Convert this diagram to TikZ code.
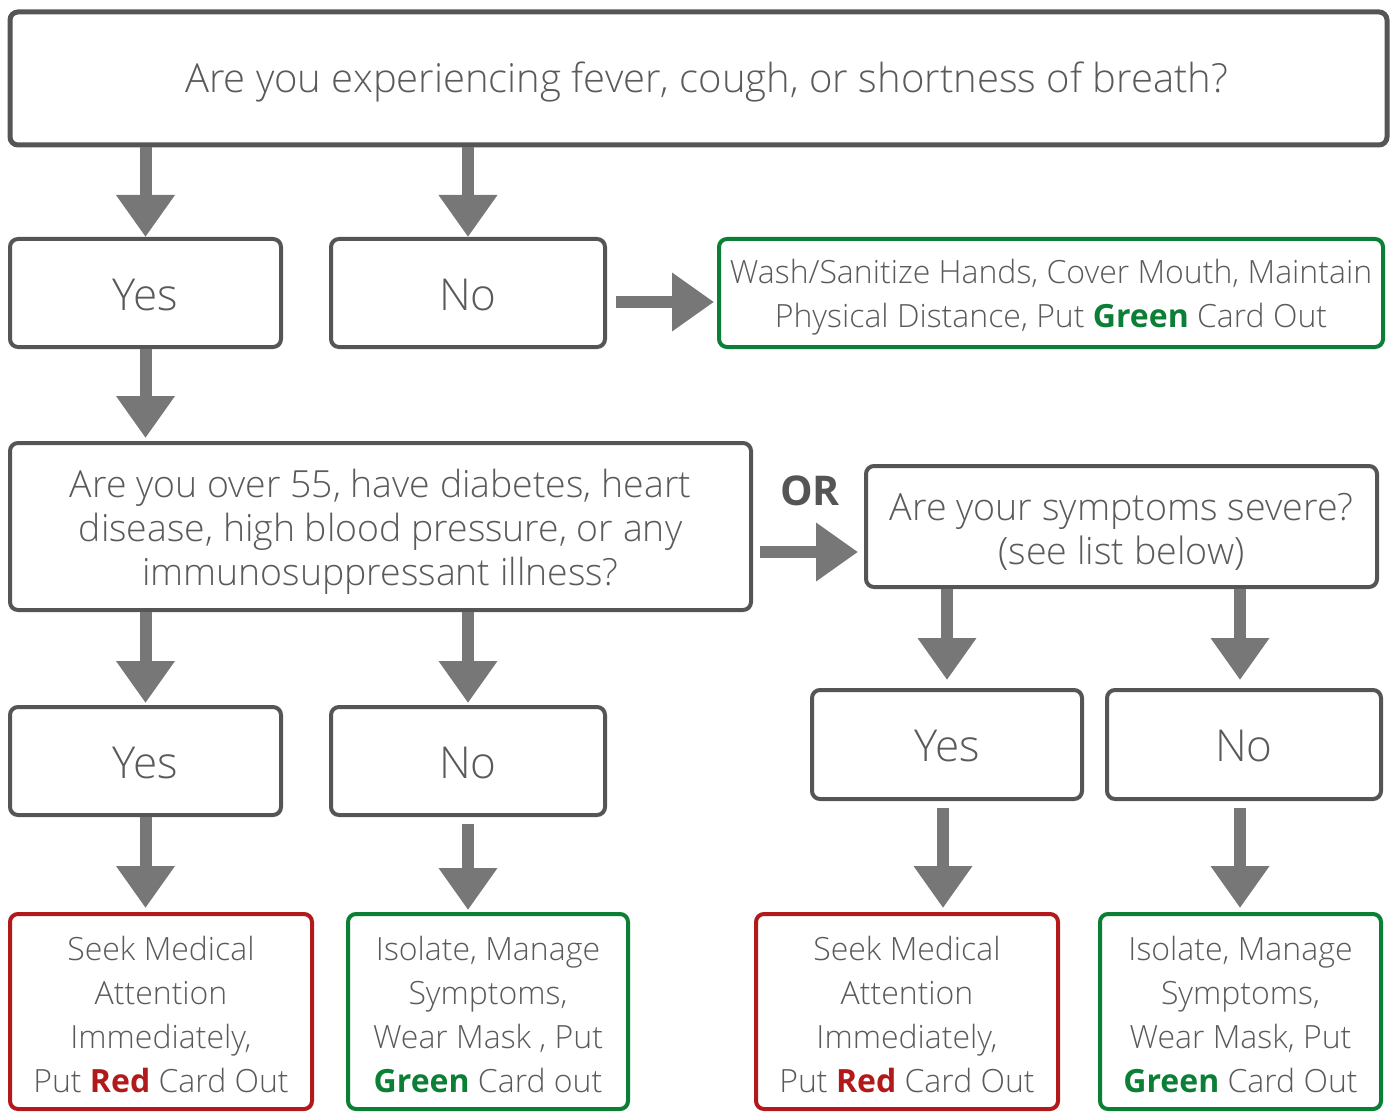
\documentclass[tikz,border=0pt]{standalone}
\usepackage{fontspec}
\setmainfont{Open Sans Light}[BoldFont={Open Sans Bold}]
\usetikzlibrary{arrows.meta}
\definecolor{bord}{HTML}{555555}
\definecolor{arr}{HTML}{777777}
\definecolor{txt}{HTML}{5A5A5A}
\definecolor{cred}{HTML}{B2191B}
\definecolor{cgreen}{HTML}{0B7F36}
\newcommand{\fs}[1]{\fontsize{#1}{22pt}\selectfont}
\begin{document}
\begin{tikzpicture}[x=0.5pt,y=-0.5pt,
  box/.style={draw=bord, line width=2pt, rounded corners=4pt, fill=white, inner sep=0pt},
  redbox/.style={box, draw=cred},
  greenbox/.style={box, draw=cgreen},
  label text/.style={text=txt, align=center, inner sep=0pt},
  flow/.style={draw=arr, line width=6pt, -{Triangle[width=28pt,length=21pt]}},
  ]
\useasboundingbox (0,0) rectangle (1390,1112);

% boxes
\node[box, line width=2.5pt, minimum width=688.5pt, minimum height=66.5pt] (top) at (698.5,78.5) {};
\node[box, minimum width=135.5pt, minimum height=54pt] (yes1) at (145.5,293) {};
\node[box, minimum width=137pt, minimum height=54pt] (no1) at (468,293) {};
\node[greenbox, minimum width=332pt, minimum height=54pt] (g1) at (1051,293) {};
\node[box, minimum width=370.5pt, minimum height=83.5pt] (q2) at (380.5,526.5) {};
\node[box, minimum width=255.5pt, minimum height=60.5pt] (q3) at (1121.5,526.5) {};
\node[box, minimum width=135.5pt, minimum height=54pt] (yes2) at (145.5,761) {};
\node[box, minimum width=137pt, minimum height=54pt] (no2) at (468,761) {};
\node[box, minimum width=135pt, minimum height=54.5pt] (yes3) at (947,744.5) {};
\node[box, minimum width=137pt, minimum height=54.5pt] (no3) at (1244,744.5) {};
\node[redbox, minimum width=151pt, minimum height=97.5pt] (r1) at (161,1011.5) {};
\node[greenbox, minimum width=140pt, minimum height=97.5pt] (g2) at (488,1011.5) {};
\node[redbox, minimum width=151pt, minimum height=97.5pt] (r2) at (907,1011.5) {};
\node[greenbox, minimum width=140.5pt, minimum height=97.5pt] (g3) at (1240.5,1011.5) {};

% texts
\node[label text, font=\fs{20pt}] (topt) at ([xshift=4pt,yshift=-2pt]top.center)
  {Are you experiencing fever, cough, or shortness of breath?};
\node[label text, font=\fs{22pt}] (yes1t) at ([yshift=-1pt]yes1.center) {Yes};
\node[label text, font=\fs{22pt}] (no1t) at ([yshift=-1pt]no1.center) {No};
\node[label text, font=\fs{16pt}] (g1t) at ([yshift=-2pt]g1.center)
  {Wash/Sanitize Hands, Cover Mouth, Maintain\\Physical Distance, Put \textbf{\color{cgreen}Green} Card Out};
\node[label text, font=\fs{18.7pt}] (q2t) at ([yshift=-2.5pt]q2.center)
  {Are you over 55, have diabetes, heart\\disease, high blood pressure, or any\\immunosuppressant illness?};
\node[label text, font=\fs{18.8pt}] (q3t) at ([yshift=-2.5pt]q3.center)
  {Are your symptoms severe?\\(see list below)};
\node[font=\bfseries\fontsize{20.5pt}{22pt}\selectfont, text=bord, inner sep=0pt] (or) at (810,491) {OR};
\node[label text, font=\fs{22pt}] (yes2t) at ([yshift=-1pt]yes2.center) {Yes};
\node[label text, font=\fs{22pt}] (no2t) at ([yshift=-1pt]no2.center) {No};
\node[label text, font=\fs{22pt}] (yes3t) at ([yshift=-1pt]yes3.center) {Yes};
\node[label text, font=\fs{22pt}] (no3t) at ([yshift=-1pt]no3.center) {No};
\node[label text, font=\fs{16pt}] (r1t) at ([yshift=-1.5pt]r1.center)
  {Seek Medical\\Attention\\Immediately,\\Put \textbf{\color{cred}Red} Card Out};
\node[label text, font=\fs{16pt}] (g2t) at ([yshift=-1.5pt]g2.center)
  {Isolate, Manage\\Symptoms,\\Wear Mask , Put\\\textbf{\color{cgreen}Green} Card out};
\node[label text, font=\fs{16pt}] (r2t) at ([yshift=-1.5pt]r2.center)
  {Seek Medical\\Attention\\Immediately,\\Put \textbf{\color{cred}Red} Card Out};
\node[label text, font=\fs{16pt}] (g3t) at ([yshift=-1.5pt]g3.center)
  {Isolate, Manage\\Symptoms,\\Wear Mask, Put\\\textbf{\color{cgreen}Green} Card Out};

% connectors
\draw[flow] (top.south -| yes1.north) -- (yes1.north);
\draw[flow] (top.south -| no1.north) -- (no1.north);
\draw[flow, shorten <=4.5pt, shorten >=1.5pt] ([yshift=-4.5pt]no1.east) -- ([yshift=-4.5pt]g1.west);
\draw[flow, shorten >=1.5pt] (yes1.south) -- (yes1.south |- q2.north);
\draw[flow, shorten <=3.5pt, shorten >=3pt] ([yshift=-12.75pt]q2.east) -- ([yshift=-12.75pt]q2.east -| q3.west);
\draw[flow, shorten >=1pt] (q2.south -| yes2.north) -- (yes2.north);
\draw[flow, shorten >=1pt] (q2.south -| no2.north) -- (no2.north);
\draw[flow, shorten >=4pt] (q3.south -| yes3.north) -- (yes3.north);
\draw[flow, shorten >=4pt] ([xshift=-2pt]q3.south -| no3.north) -- ([xshift=-2pt]no3.north);
\draw[flow, shorten >=2pt] (yes2.south) -- (yes2.south |- r1.north);
\draw[flow, shorten <=3.5pt, shorten >=1pt] (no2.south) -- (no2.south |- g2.north);
\draw[flow, shorten <=3.5pt, shorten >=2pt] ([xshift=-2pt]yes3.south) -- ([xshift=-2pt]yes3.south |- r2.north);
\draw[flow, shorten <=3.5pt, shorten >=2pt] ([xshift=-2pt]no3.south) -- ([xshift=-2pt]no3.south |- g3.north);
\end{tikzpicture}
\end{document}
